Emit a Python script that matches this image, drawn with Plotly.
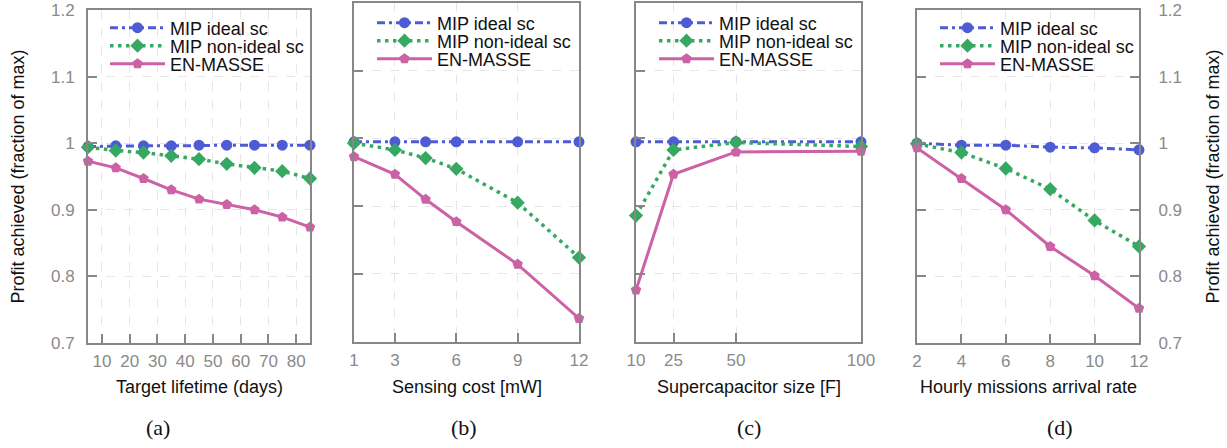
import plotly.graph_objects as go

# ---------------- data ----------------
series_names = ["MIP ideal sc", "MIP non-ideal sc", "EN-MASSE"]

# (a) Target lifetime (days)
lifetime_x = [5, 15, 25, 35, 45, 55, 65, 75, 85]
lifetime_ideal = [0.995, 0.996, 0.996, 0.996, 0.997, 0.997, 0.997, 0.997, 0.997]
lifetime_nonideal = [0.994, 0.989, 0.986, 0.981, 0.976, 0.969, 0.963, 0.958, 0.947]
lifetime_enmasse = [0.973, 0.963, 0.947, 0.930, 0.916, 0.908, 0.900, 0.889, 0.874]
lifetime_ticks = [10, 20, 30, 40, 50, 60, 70, 80]

# (b) Sensing cost [mW]
cost_x = [1, 3, 4.5, 6, 9, 12]
cost_ideal = [0.995, 0.995, 0.995, 0.995, 0.995, 0.995]
cost_nonideal = [0.993, 0.983, 0.971, 0.955, 0.905, 0.824]
cost_enmasse = [0.973, 0.947, 0.910, 0.877, 0.814, 0.734]
cost_ticks = [1, 3, 6, 9, 12]

# (c) Supercapacitor size [F]
cap_x = [10, 25, 50, 100]
cap_ideal = [0.995, 0.995, 0.995, 0.995]
cap_nonideal = [0.886, 0.983, 0.994, 0.988]
cap_enmasse = [0.776, 0.947, 0.980, 0.981]
cap_ticks = [10, 25, 50, 100]

# (d) Hourly missions arrival rate
rate_x = [2, 4, 6, 8, 10, 12]
rate_ideal = [1.000, 0.997, 0.997, 0.994, 0.993, 0.990]
rate_nonideal = [0.999, 0.986, 0.962, 0.931, 0.884, 0.845]
rate_enmasse = [0.993, 0.947, 0.900, 0.845, 0.801, 0.752]
rate_ticks = [2, 4, 6, 8, 10, 12]

y_ticks = [0.7, 0.8, 0.9, 1.0, 1.1, 1.2]
y_ticktext = ["0.7", "0.8", "0.9", "1", "1.1", "1.2"]

x_titles = ["Target lifetime (days)", "Sensing cost [mW]",
            "Supercapacitor size [F]", "Hourly missions arrival rate"]
panel_labels = ["(a)", "(b)", "(c)", "(d)"]
y_title = "Profit achieved (fraction of max)"

# ---------------- style ----------------
W, H = 1227, 448
BLUE = "#4d5bd5"
GREEN = "#36a862"
PINK = "#cc62a5"
FRAME = "#878787"
SANS = "Liberation Sans, Arial, sans-serif"
TICKFONT = dict(family=SANS, size=17, color="#8a8a8a")
TEXTFONT = dict(family=SANS, size=18, color="#111111")
LEGFONT = dict(family=SANS, size=18, color="#111111")

# per panel: data, ticks, x range, x pixel extent, y pixel extent,
# legend sample-line start x, legend row centres, panel label x
panels = [
    (lifetime_x, lifetime_ideal, lifetime_nonideal, lifetime_enmasse, lifetime_ticks, [5, 85],
     (88, 310), (10, 343), 110, (28, 46, 64), 158),
    (cost_x, cost_ideal, cost_nonideal, cost_enmasse, cost_ticks, [1, 12],
     (354, 579), (3, 341.5), 377, (23, 41, 59), 464),
    (cap_x, cap_ideal, cap_nonideal, cap_enmasse, cap_ticks, [10, 100],
     (636, 861), (3, 341.5), 659, (23, 41, 59), 749),
    (rate_x, rate_ideal, rate_nonideal, rate_enmasse, rate_ticks, [2, 12],
     (917, 1139), (10, 343), 940, (28, 46, 64), 1060),
]

fig = go.Figure()
styles = [
    dict(color=BLUE, dash="8px,4px,3px,4px", width=3, symbol="circle", msize=11),
    dict(color=GREEN, dash="3.5px,4.5px", width=3.5, symbol="diamond", msize=11),
    dict(color=PINK, dash="solid", width=3, symbol="pentagon", msize=11),
]

layout = {}
annotations = []
leg_idx = 0
for i, (xs, yi, yn, ye, xt, xr, (px0, px1), (py0, py1), lx, rows, labx) in enumerate(panels):
    n = i + 1
    xa = "x" if n == 1 else f"x{n}"
    ya = "y" if n == 1 else f"y{n}"
    for s, ys, st, ry in zip(series_names, [yi, yn, ye], styles, rows):
        leg_idx += 1
        lg = "legend" if leg_idx == 1 else f"legend{leg_idx}"
        fig.add_trace(go.Scatter(
            x=xs, y=ys, name=s, mode="lines+markers",
            line=dict(color=st["color"], dash=st["dash"], width=st["width"]),
            marker=dict(symbol=st["symbol"], size=st["msize"], color=st["color"]),
            xaxis=xa, yaxis=ya, legend=lg, cliponaxis=False,
        ))
        layout[lg] = dict(
            x=(lx - 5) / W, y=1 - ry / H, xanchor="left", yanchor="middle",
            bgcolor="rgba(0,0,0,0)", font=LEGFONT, itemwidth=55,
        )
    xkey = "xaxis" if n == 1 else f"xaxis{n}"
    ykey = "yaxis" if n == 1 else f"yaxis{n}"
    layout[xkey] = dict(
        domain=[px0 / W, px1 / W], range=xr, anchor=ya,
        tickvals=xt, ticktext=[str(v) for v in xt],
        ticks="inside", ticklen=9, tickwidth=2, tickcolor=FRAME,
        ticklabelstandoff=2,
        showline=True, linecolor=FRAME, linewidth=2, mirror=True,
        showgrid=True, gridcolor="#e6e6e6", griddash="dash", gridwidth=1,
        zeroline=False, tickfont=TICKFONT,
    )
    yd = dict(
        domain=[1 - py1 / H, 1 - py0 / H], range=[0.7, 1.2], anchor=xa,
        tickvals=y_ticks, ticktext=y_ticktext,
        ticks="inside", ticklen=9, tickwidth=2, tickcolor=FRAME,
        showline=True, linecolor=FRAME, linewidth=2,
        mirror=True,
        showgrid=True, gridcolor="#e6e6e6", griddash="dash", gridwidth=1,
        zeroline=False, tickfont=TICKFONT,
        showticklabels=(n in (1, 4)), ticklabelstandoff=8,
    )
    if n == 4:
        yd["side"] = "right"
        yd["mirror"] = "ticks"
        yd["ticklabelstandoff"] = 14
    layout[ykey] = yd
    cx = (px0 + px1) / 2 / W
    annotations.append(dict(text=x_titles[i], x=cx, y=1 - 387 / H, xref="paper", yref="paper",
                            showarrow=False, font=TEXTFONT, xanchor="center", yanchor="middle"))
    annotations.append(dict(text=panel_labels[i], x=labx / W, y=1 - 427 / H, xref="paper", yref="paper",
                            showarrow=False, xanchor="center", yanchor="middle",
                            font=dict(family="Liberation Serif, DejaVu Serif, serif", size=22, color="#111111")))

mid = 1 - (10 + 343) / 2 / H
annotations.append(dict(text=y_title, x=17 / W, y=mid, xref="paper", yref="paper", textangle=-90,
                        showarrow=False, font=TEXTFONT, xanchor="center", yanchor="middle"))
annotations.append(dict(text=y_title, x=1212 / W, y=mid, xref="paper", yref="paper", textangle=-90,
                        showarrow=False, font=TEXTFONT, xanchor="center", yanchor="middle"))

fig.update_layout(
    width=W, height=H, margin=dict(l=0, r=0, t=0, b=0, autoexpand=False),
    paper_bgcolor="white", plot_bgcolor="white",
    showlegend=True, annotations=annotations, **layout,
)

fig.write_html("out.html", config={"displayModeBar": False},
               post_script="document.body.style.margin='0';document.body.style.overflow='hidden';")
